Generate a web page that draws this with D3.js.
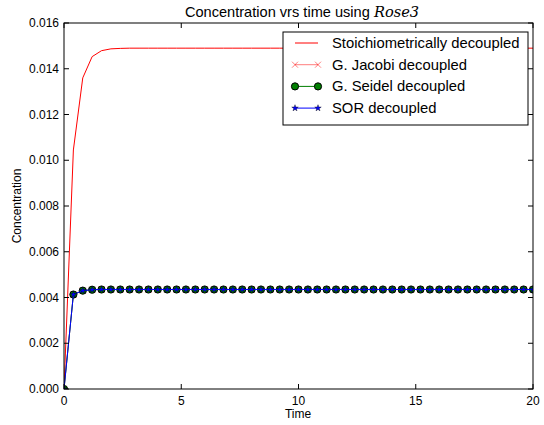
<!DOCTYPE html>
<html>
<head>
<meta charset="utf-8">
<script src="https://cdn.jsdelivr.net/npm/d3@7"></script>
<style>
  body { margin: 0; background: #fff; }
  text { font-family: "Liberation Sans", Arial, sans-serif; }
</style>
</head>
<body>
<svg id="chart" width="544" height="425"></svg>
<script>
// time steps (dt = 0.4)
var times = d3.range(0, 51).map(function(i) { return +(i * 0.4).toFixed(1) })

// stoichiometric solution
var stoich = [0, 0.01045, 0.0136, 0.01453, 0.01479, 0.01487, 0.01489, 0.0149]
// iterative solvers (all three overlap)
var iterHead = [0, 0.00413, 0.0043, 0.00434]
var flatStoich = 0.0149, flatIter = 0.00435

var stoichVals = times.map(function(t, i) { return i < stoich.length ? stoich[i] : flatStoich })
var iterVals = times.map(function(t, i) { return i < iterHead.length ? iterHead[i] : flatIter })

var yTicks = [0, 0.002, 0.004, 0.006, 0.008, 0.010, 0.012, 0.014, 0.016]
var xTicks = [0, 5, 10, 15, 20]

var series = [
  { name: 'Stoichiometrically decoupled', values: stoichVals, color: '#ff0000', marker: null, alpha: 1 },
  { name: 'G. Jacobi decoupled', values: iterVals, color: '#ff0000', marker: 'x', alpha: 0.5 },
  { name: 'G. Seidel decoupled', values: iterVals, color: '#007f00', marker: 'circle', alpha: 1 },
  { name: 'SOR decoupled', values: iterVals, color: '#0000ff', marker: 'star', alpha: 1 }
]

var svg = d3.select('#chart')
var pLeft = 64, pRight = 533, pTop = 23, pBottom = 389

var x = d3.scaleLinear().domain([0, 20]).range([pLeft, pRight])
var y = d3.scaleLinear().domain([0, 0.016]).range([pBottom, pTop])

var clip = svg.append('clipPath').attr('id', 'clip')
clip.append('rect').attr('x', pLeft).attr('y', pTop).attr('width', pRight - pLeft).attr('height', pBottom - pTop)

var line = d3.line().x(function(d, i) { return x(times[i]) }).y(function(d) { return y(d) })

var star = d3.symbol().type(d3.symbolStar).size(13)

function drawMarker(g, type, cx, cy, color, alpha) {
  if (type === 'x') {
    g.append('path')
      .attr('d', 'M' + (cx - 3) + ',' + (cy - 3) + 'L' + (cx + 3) + ',' + (cy + 3) +
        'M' + (cx - 3) + ',' + (cy + 3) + 'L' + (cx + 3) + ',' + (cy - 3))
      .attr('stroke', color).attr('stroke-width', 1).attr('fill', 'none')
      .attr('opacity', alpha)
  } else if (type === 'circle') {
    g.append('circle').attr('cx', cx).attr('cy', cy).attr('r', 3.6)
      .attr('fill', color).attr('stroke', '#000').attr('stroke-width', 1)
  } else if (type === 'star') {
    g.append('path').attr('d', star())
      .attr('transform', 'translate(' + cx + ',' + cy + ')')
      .attr('fill', color).attr('stroke', '#000').attr('stroke-width', 0.4)
  }
}

var plot = svg.append('g').attr('clip-path', 'url(#clip)')
series.forEach(function(s) {
  plot.append('path').datum(s.values)
    .attr('d', line).attr('fill', 'none')
    .attr('stroke', s.color).attr('stroke-width', 1)
    .attr('opacity', s.alpha)
  if (s.marker) {
    s.values.forEach(function(v, i) { drawMarker(plot, s.marker, x(times[i]), y(v), s.color, s.alpha) })
  }
})

// frame
svg.append('rect')
  .attr('x', pLeft).attr('y', pTop)
  .attr('width', pRight - pLeft).attr('height', pBottom - pTop)
  .attr('fill', 'none').attr('stroke', '#000').attr('stroke-width', 1)

// ticks (inward, all four sides)
var tickG = svg.append('g').attr('stroke', '#000').attr('stroke-width', 1)
xTicks.forEach(function(t) {
  tickG.append('line').attr('x1', x(t)).attr('x2', x(t)).attr('y1', pBottom).attr('y2', pBottom - 5)
  tickG.append('line').attr('x1', x(t)).attr('x2', x(t)).attr('y1', pTop).attr('y2', pTop + 5)
  svg.append('text').attr('x', x(t)).attr('y', pBottom + 16)
    .attr('text-anchor', 'middle').attr('font-size', 12).text(t)
})
yTicks.forEach(function(t) {
  tickG.append('line').attr('x1', pLeft).attr('x2', pLeft + 5).attr('y1', y(t)).attr('y2', y(t))
  tickG.append('line').attr('x1', pRight).attr('x2', pRight - 5).attr('y1', y(t)).attr('y2', y(t))
  svg.append('text').attr('x', pLeft - 5).attr('y', y(t) + 4)
    .attr('text-anchor', 'end').attr('font-size', 12).text(d3.format('.3f')(t))
})

// legend
var lg = svg.append('g')
lg.append('rect').attr('x', 283).attr('y', 32).attr('width', 245).attr('height', 93)
  .attr('fill', '#fff').attr('stroke', '#000').attr('stroke-width', 1)
series.forEach(function(s, i) {
  var cy = 43 + i * 21.7
  lg.append('line').attr('x1', 295).attr('x2', 318).attr('y1', cy).attr('y2', cy)
    .attr('stroke', s.color).attr('stroke-width', 1).attr('opacity', s.alpha)
  if (s.marker) {
    drawMarker(lg, s.marker, 295, cy, s.color, s.alpha)
    drawMarker(lg, s.marker, 318, cy, s.color, s.alpha)
  }
  lg.append('text').attr('x', 332).attr('y', cy + 5).attr('font-size', 14.8).text(s.name)
})

// title and axis labels
var title = svg.append('text').attr('x', 302).attr('y', 17)
  .attr('text-anchor', 'middle').attr('font-size', 14.6)
title.append('tspan').text('Concentration vrs time using ')
title.append('tspan').attr('font-family', '"DejaVu Serif", serif').attr('font-style', 'italic').text('Rose3')

svg.append('text').attr('x', 298).attr('y', 418)
  .attr('text-anchor', 'middle').attr('font-size', 12).text('Time')
svg.append('text').attr('transform', 'translate(21,' + ((pTop + pBottom) / 2) + ') rotate(-90)')
  .attr('text-anchor', 'middle').attr('font-size', 12).text('Concentration')
</script>
</body>
</html>
